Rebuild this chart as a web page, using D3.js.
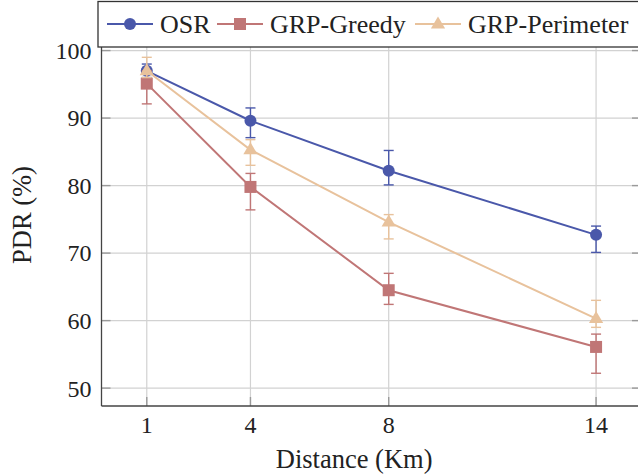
<!DOCTYPE html>
<html>
<head>
<meta charset="utf-8">
<script src="https://cdn.jsdelivr.net/npm/d3@7"></script>
<style>
  body { margin: 0; background: #fff; }
  svg text { font-family: "Liberation Serif", "Times New Roman", Times, "DejaVu Serif", serif; }
</style>
</head>
<body>
<div id="chart"></div>
<script>
// Chart data
const distances = [1, 4, 8, 14];
const xTicks = [1, 4, 8, 14];
const yTicks = [50, 60, 70, 80, 90, 100];

const osr = [97.0, 89.6, 82.2, 72.7];
const osrHigh = [98.0, 91.5, 85.2, 74.0];
const osrLow = [96.0, 87.1, 80.1, 70.1];

const greedy = [95.1, 79.8, 64.5, 56.1];
const greedyHigh = [97.0, 81.8, 67.0, 58.0];
const greedyLow = [92.1, 76.4, 62.4, 52.2];

const perimeter = [97.0, 85.3, 74.6, 60.3];
const perimeterHigh = [99.0, 86.8, 75.7, 63.0];
const perimeterLow = [96.0, 83.0, 72.1, 59.0];

const series = [
    {name: "OSR", values: osr, hi: osrHigh, lo: osrLow, color: "#4a58aa", marker: "circle"},
    {name: "GRP-Greedy", values: greedy, hi: greedyHigh, lo: greedyLow, color: "#c07676", marker: "square"},
    {name: "GRP-Perimeter", values: perimeter, hi: perimeterHigh, lo: perimeterLow, color: "#e8c29c", marker: "triangle"}
];

const W = 638, H = 475;
const margin = {top: 33, right: -3, bottom: 69, left: 101.5};
const width = W - margin.left - margin.right;
const height = H - margin.top - margin.bottom;

const svg = d3.select("#chart").append("svg")
    .attr("width", W)
    .attr("height", H);

const x = d3.scaleLinear().domain([-0.31, 15.3]).range([0, width]);
const y = d3.scaleLinear().domain([47.35, 102.6]).range([height, 0]);

const g = svg.append("g")
    .attr("transform", "translate(" + margin.left + "," + margin.top + ")");

// grid
g.append("g").selectAll("line").data(xTicks).enter().append("line")
    .attr("x1", d => x(d)).attr("x2", d => x(d))
    .attr("y1", 0).attr("y2", height)
    .attr("stroke", "#d2d2d2").attr("stroke-width", 1.2);
g.append("g").selectAll("line").data(yTicks).enter().append("line")
    .attr("x1", 0).attr("x2", width)
    .attr("y1", d => y(d)).attr("y2", d => y(d))
    .attr("stroke", "#d2d2d2").attr("stroke-width", 1.2);

// inward ticks (left/right/bottom)
const tickLen = 9;
g.append("g").selectAll("line").data(yTicks).enter().append("line")
    .attr("x1", 0).attr("x2", tickLen)
    .attr("y1", d => y(d)).attr("y2", d => y(d))
    .attr("stroke", "#9a9a9a").attr("stroke-width", 1.4);
g.append("g").selectAll("line").data(yTicks).enter().append("line")
    .attr("x1", width - tickLen).attr("x2", width)
    .attr("y1", d => y(d)).attr("y2", d => y(d))
    .attr("stroke", "#9a9a9a").attr("stroke-width", 1.4);
g.append("g").selectAll("line").data(xTicks).enter().append("line")
    .attr("x1", d => x(d)).attr("x2", d => x(d))
    .attr("y1", height - tickLen).attr("y2", height)
    .attr("stroke", "#9a9a9a").attr("stroke-width", 1.4);

// axis lines
g.append("line").attr("x1", 0).attr("x2", 0).attr("y1", 0).attr("y2", height)
    .attr("stroke", "#444").attr("stroke-width", 1.3);
g.append("line").attr("x1", 0).attr("x2", width).attr("y1", height).attr("y2", height)
    .attr("stroke", "#444").attr("stroke-width", 1.3);

// tick labels
g.append("g").selectAll("text").data(yTicks).enter().append("text")
    .attr("x", -10).attr("y", d => y(d)).attr("dy", "0.35em")
    .attr("text-anchor", "end").attr("font-size", 24).attr("fill", "#222")
    .text(d => d);
g.append("g").selectAll("text").data(xTicks).enter().append("text")
    .attr("x", d => x(d)).attr("y", height + 27)
    .attr("text-anchor", "middle").attr("font-size", 24).attr("fill", "#222")
    .text(d => d);

// axis titles
svg.append("text")
    .attr("x", margin.left + x(7)).attr("y", 468)
    .attr("text-anchor", "middle").attr("font-size", 26.5).attr("fill", "#222")
    .text("Distance (Km)");
svg.append("text")
    .attr("transform", "translate(31,215) rotate(-90)")
    .attr("text-anchor", "middle").attr("font-size", 26.5).attr("fill", "#222")
    .text("PDR (%)");

function drawMarker(sel, type, color, size) {
    if (type === "circle") {
        sel.append("circle").attr("r", size).attr("fill", color);
    } else if (type === "square") {
        sel.append("rect").attr("x", -size).attr("y", -size)
            .attr("width", 2 * size).attr("height", 2 * size).attr("fill", color);
    } else {
        const s = size * 1.25;
        sel.append("path")
            .attr("d", "M0," + (-s) + "L" + (s * 0.95) + "," + (s * 0.6) + "L" + (-s * 0.95) + "," + (s * 0.6) + "Z")
            .attr("fill", color);
    }
}

const line = d3.line()
    .x((d, i) => x(distances[i]))
    .y(d => y(d));

series.forEach(function(s) {
    const sg = g.append("g");
    sg.append("path")
        .datum(s.values)
        .attr("fill", "none")
        .attr("stroke", s.color)
        .attr("stroke-width", 2)
        .attr("d", line);

    // error bars
    distances.forEach(function(dv, i) {
        const cx = x(dv);
        sg.append("line").attr("x1", cx).attr("x2", cx)
            .attr("y1", y(s.hi[i])).attr("y2", y(s.lo[i]))
            .attr("stroke", s.color).attr("stroke-width", 1.4);
        [s.hi[i], s.lo[i]].forEach(function(v) {
            sg.append("line").attr("x1", cx - 5).attr("x2", cx + 5)
                .attr("y1", y(v)).attr("y2", y(v))
                .attr("stroke", s.color).attr("stroke-width", 1.4);
        });
    });

    sg.selectAll("g.m").data(s.values).enter().append("g")
        .attr("class", "m")
        .attr("transform", (d, i) => "translate(" + x(distances[i]) + "," + y(d) + ")")
        .each(function() { drawMarker(d3.select(this), s.marker, s.color, 6); });
});

// legend
const legend = svg.append("g");
legend.append("rect")
    .attr("x", 98).attr("y", 1.5).attr("width", 545).attr("height", 45.5)
    .attr("fill", "#fff").attr("stroke", "#333").attr("stroke-width", 1.3);

const legendX = [107, 217, 415];
series.forEach(function(s, i) {
    const lx = legendX[i];
    const item = legend.append("g").attr("transform", "translate(" + lx + ",24)");
    item.append("line").attr("x1", 0).attr("x2", 46).attr("y1", 0).attr("y2", 0)
        .attr("stroke", s.color).attr("stroke-width", 2);
    const m = item.append("g").attr("transform", "translate(23,0)");
    drawMarker(m, s.marker, s.color, 6);
    item.append("text").attr("x", 53).attr("y", 0).attr("dy", "0.35em")
        .attr("font-size", 26).attr("fill", "#222")
        .text(s.name);
});
</script>
</body>
</html>
